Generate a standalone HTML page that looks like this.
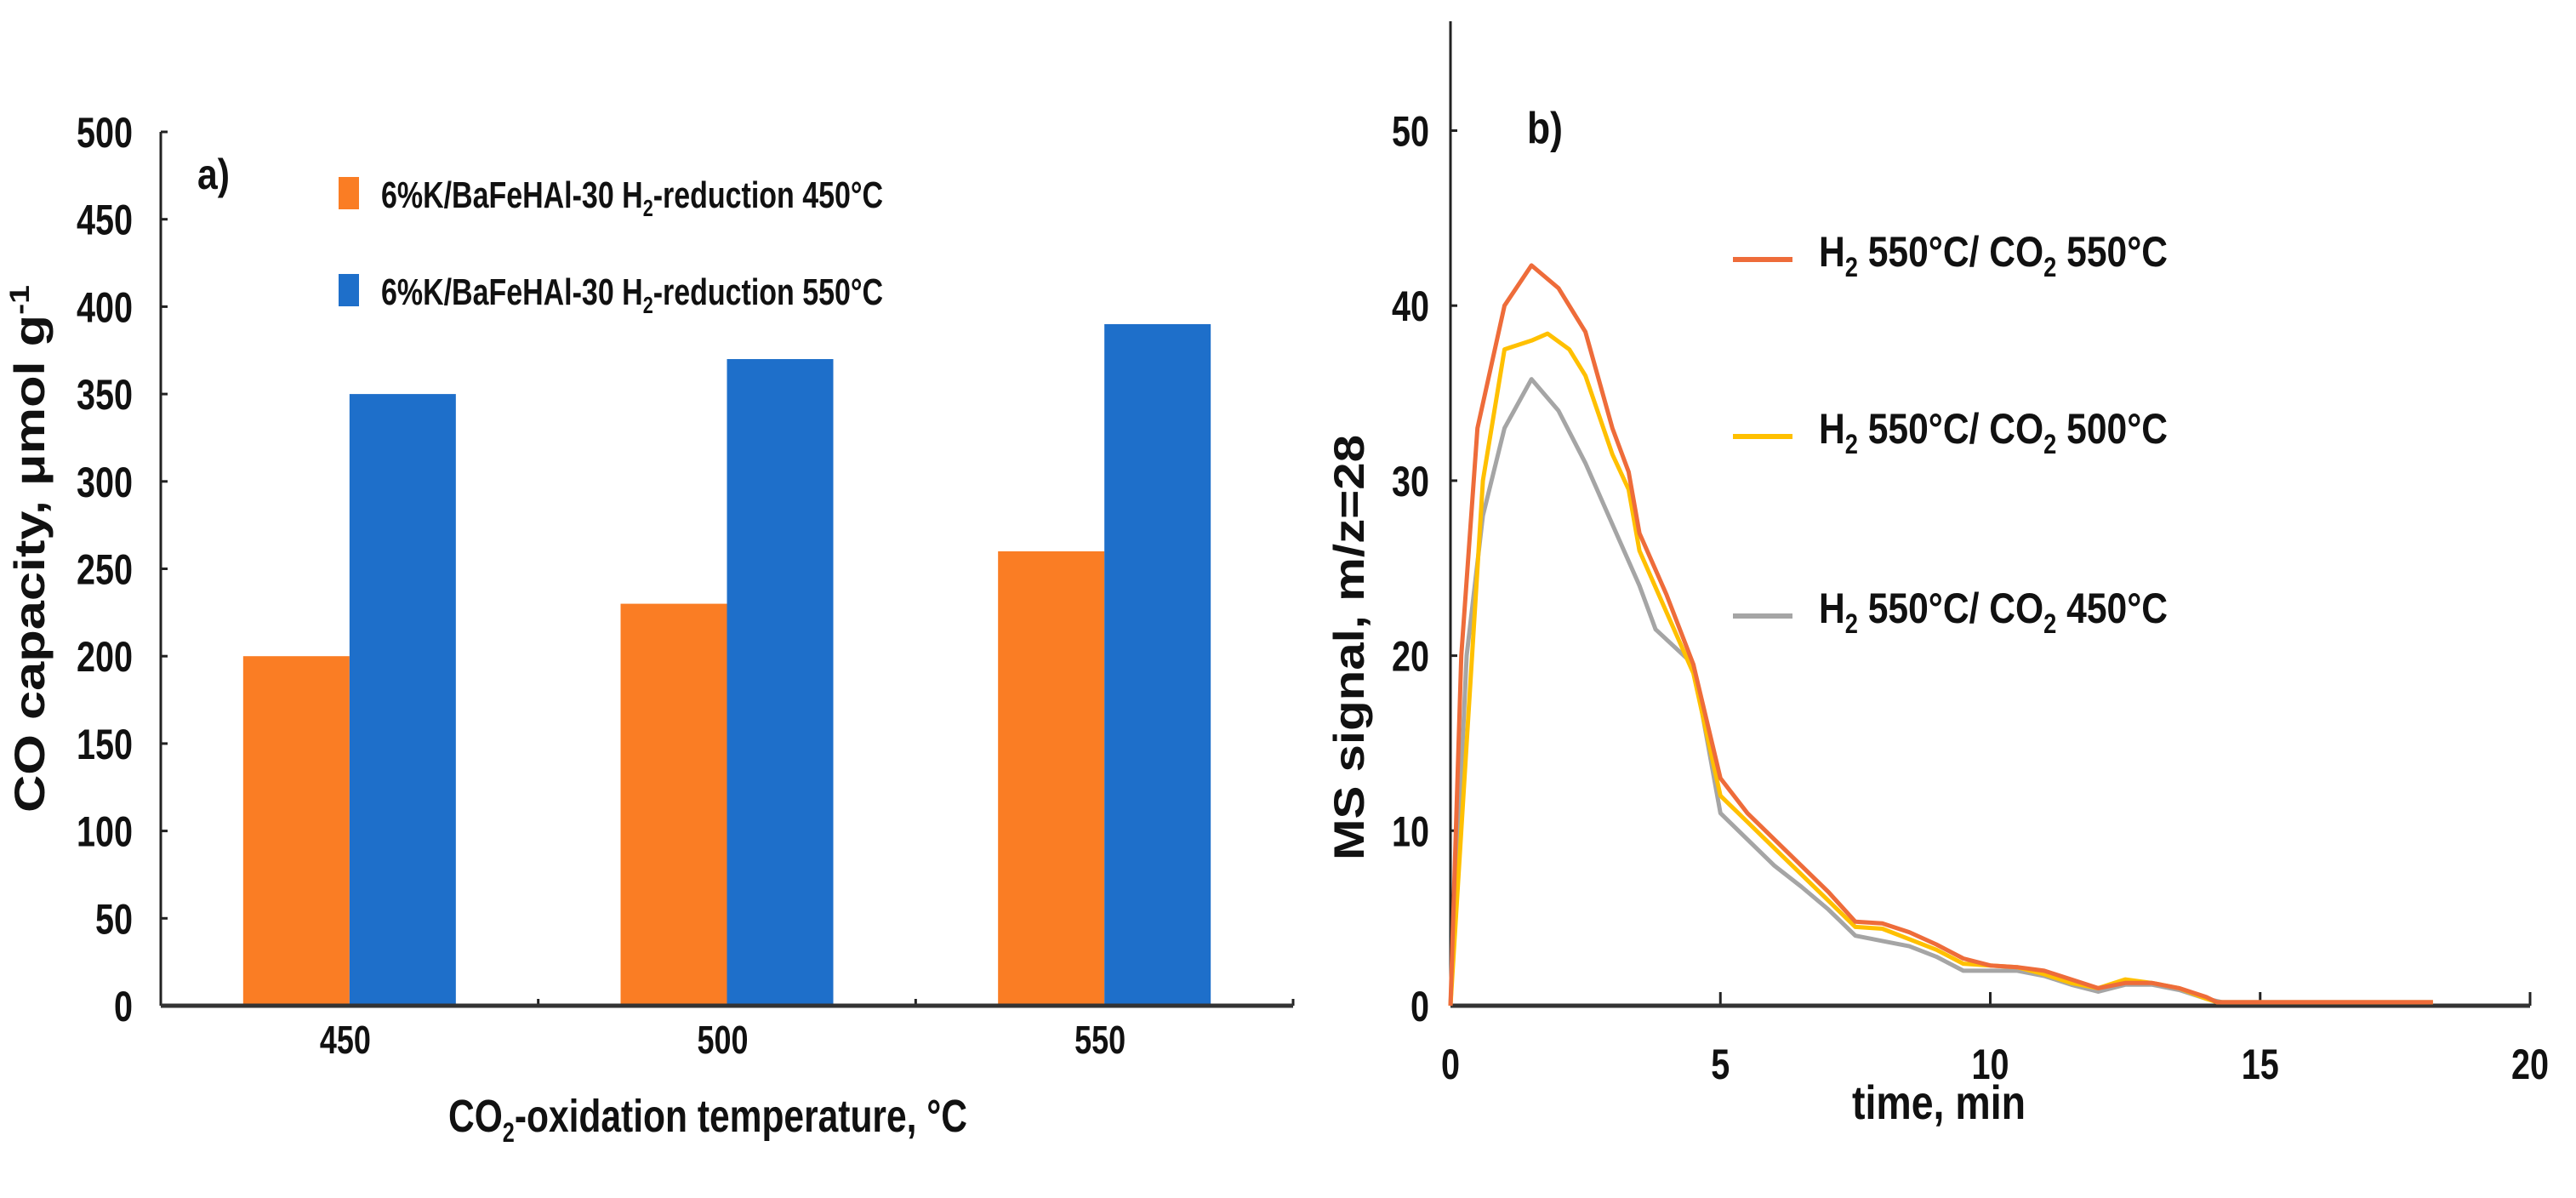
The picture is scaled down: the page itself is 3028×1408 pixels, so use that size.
<!DOCTYPE html>
<html><head><meta charset="utf-8"><style>
html,body{margin:0;padding:0;background:#fff;}
svg{display:block;}
text{font-family:"Liberation Sans",sans-serif;fill:#111;font-weight:bold;}
</style></head>
<body>
<svg id="fig" width="3028" height="1408" viewBox="0 0 3028 1408" xmlns="http://www.w3.org/2000/svg">
<g id="chartA"></g>
<g id="chartB"></g>
</svg>
<script>
const barCategories = ["450","500","550"];
const barOrange = [200,230,260];
const barBlue = [350,370,390];
const barYTicks = [0,50,100,150,200,250,300,350,400,450,500];

const lineXTicks = [0,5,10,15,20];
const lineYTicks = [0,10,20,30,40,50];
const tOrange = [0,0.2,0.5,1.0,1.5,2.0,2.5,3.0,3.3,3.5,4.0,4.5,5.0,5.5,6.0,6.5,7.0,7.5,8.0,8.5,9.0,9.5,10.0,10.5,11.0,11.5,12.0,12.5,13.0,13.5,14.0,14.2,18.2];
const vOrange = [0,20,33,40,42.3,41,38.5,33,30.5,27,23.5,19.5,13,11,9.5,8,6.5,4.8,4.7,4.2,3.5,2.7,2.3,2.2,2.0,1.5,1.0,1.3,1.3,1.0,0.5,0.2,0.2];
const tYellow = [0,0.3,0.6,1.0,1.5,1.8,2.2,2.5,3.0,3.3,3.5,4.0,4.5,5.0,5.5,6.0,6.5,7.0,7.5,8.0,8.5,9.0,9.5,10.0,10.5,11.0,11.5,12.0,12.5,13.0,13.5,14.0,14.2,18.2];
const vYellow = [0,15,30,37.5,38,38.4,37.5,36,31.5,29.5,26,22.5,19,12,10.5,9,7.5,6,4.5,4.4,3.8,3.2,2.4,2.3,2.2,1.8,1.3,1.0,1.5,1.3,1.0,0.4,0.2,0.2];
const tGray = [0,0.3,0.6,1.0,1.5,2.0,2.5,3.0,3.5,3.8,4.5,5.0,5.5,6.0,6.5,7.0,7.5,8.0,8.5,9.0,9.5,10.0,10.5,11.0,11.5,12.0,12.5,13.0,13.5,14.0,14.3,18.2];
const vGray = [0,20,28,33,35.8,34,31,27.5,24,21.5,19.5,11,9.5,8,6.8,5.5,4,3.7,3.4,2.8,2.0,2.0,2.0,1.7,1.2,0.8,1.2,1.2,0.9,0.4,0.2,0.2];

const NS = "http://www.w3.org/2000/svg";
function mk(parent, tag, attrs, txt){
  const e = document.createElementNS(NS, tag);
  for (const k in attrs) e.setAttribute(k, attrs[k]);
  if (txt !== undefined) e.textContent = txt;
  parent.appendChild(e);
  return e;
}
function narrow(s){ return {textLength: s.length*22, lengthAdjust:'spacingAndGlyphs'}; }

// ---------- Chart A ----------
const A = document.getElementById('chartA');
const aX0 = 189, aX1 = 1520, aY0 = 1182, aYTop = 155;
const aY = v => aY0 - (v/500)*(aY0-aYTop);
const catW = (aX1-aX0)/barCategories.length;
const aCx = i => aX0 + catW*(i+0.5);
const barW = 125;

let e;
e = mk(A,'line',{x1:aX0,y1:aYTop,x2:aX0,y2:aY0,stroke:'#222','stroke-width':3});


barYTicks.forEach(v=>{
  const t = mk(A,'line',{x1:aX0,y1:aY(v),x2:aX0+8,y2:aY(v),stroke:'#222','stroke-width':3});
  
  
  const s = String(v);
  const l = mk(A,'text',Object.assign({x:156-s.length*22,y:aY(v)+18,'font-size':50},narrow(s)),s);
  
  
});
barCategories.forEach((c,i)=>{
  const o = mk(A,'rect',{x:aCx(i)-barW,y:aY(barOrange[i]),width:barW,height:aY0-aY(barOrange[i]),fill:'#FA7D24'});
  
  
  const b = mk(A,'rect',{x:aCx(i),y:aY(barBlue[i]),width:barW,height:aY0-aY(barBlue[i]),fill:'#1E6FCA'});
  
  
  const l = mk(A,'text',Object.assign({x:aCx(i)-2-c.length*11,y:1238,'font-size':46},{textLength:c.length*20,lengthAdjust:'spacingAndGlyphs'}),c);
  
  
});
for (let i=0;i<=barCategories.length;i++){
  const x = aX0+catW*i;
  const t = mk(A,'line',{x1:x,y1:aY0,x2:x,y2:aY0-8,stroke:'#222','stroke-width':3});
  
  
}
e = mk(A,'line',{x1:aX0,y1:aY0,x2:aX1,y2:aY0,stroke:'#333','stroke-width':5});



e = mk(A,'text',{x:232,y:222,'font-size':50,textLength:38,lengthAdjust:'spacingAndGlyphs'},'a)');



const leg = [['#FA7D24','6%K/BaFeHAl-30 H','-reduction 450°C',208],['#1E6FCA','6%K/BaFeHAl-30 H','-reduction 550°C',322]];
leg.forEach((L,i)=>{
  const r = mk(A,'rect',{x:398,y:L[3],width:24,height:38,fill:L[0]});
  
  
  const t = mk(A,'text',{x:448,y:L[3]+36,'font-size':44,textLength:590,lengthAdjust:'spacingAndGlyphs'});
  
  
  mk(t,'tspan',{},L[1]);
  mk(t,'tspan',{dy:10,'font-size':28},'2');
  mk(t,'tspan',{dy:-10},L[2]);
});

e = mk(A,'text',{x:527,y:1330,'font-size':54,textLength:610,lengthAdjust:'spacingAndGlyphs'});


mk(e,'tspan',{},'CO');
mk(e,'tspan',{dy:12,'font-size':32},'2');
mk(e,'tspan',{dy:-12},'-oxidation temperature, °C');

e = mk(A,'text',{x:0,y:0,'text-anchor':'middle','font-size':50,'font-weight':'bold',textLength:620,lengthAdjust:'spacingAndGlyphs',transform:'translate(52,645) rotate(-90)','font-family':'"DejaVu Sans","Liberation Sans",sans-serif'});


mk(e,'tspan',{},'CO capacity, μmol g');
mk(e,'tspan',{dy:-18,'font-size':32},'-1');

// ---------- Chart B ----------
const B = document.getElementById('chartB');
const bX0 = 1705, bX1 = 2974, bY0 = 1182, bPer10 = 205.7;
const bx = t => bX0 + (t/20)*(bX1-bX0);
const by = v => bY0 - v/10*bPer10;

e = mk(B,'line',{x1:bX0,y1:25,x2:bX0,y2:bY0,stroke:'#222','stroke-width':3});


lineYTicks.forEach(v=>{
  const t = mk(B,'line',{x1:bX0,y1:by(v),x2:bX0+8,y2:by(v),stroke:'#222','stroke-width':3});
  
  
  const s = String(v);
  const l = mk(B,'text',Object.assign({x:1680-s.length*22,y:by(v)+18,'font-size':50},narrow(s)),s);
  
  
});
lineXTicks.forEach(v=>{
  const t = mk(B,'line',{x1:bx(v),y1:bY0,x2:bx(v),y2:bY0-16,stroke:'#222','stroke-width':3});
  
  
  const s = String(v);
  const l = mk(B,'text',Object.assign({x:bx(v)-s.length*11,y:1268,'font-size':50},narrow(s)),s);
  
  
});
e = mk(B,'line',{x1:bX0,y1:bY0,x2:bX1,y2:bY0,stroke:'#333','stroke-width':5});



const series = [[tGray,vGray,'#A5A5A5','series-co2-450'],[tYellow,vYellow,'#FFC000','series-co2-500'],[tOrange,vOrange,'#EE6C3A','series-co2-550']];
series.forEach(S=>{
  const d = S[0].map((t,i)=>(i?'L':'M')+bx(t).toFixed(1)+' '+by(S[1][i]).toFixed(1)).join(' ');
  const p = mk(B,'path',{d:d,fill:'none',stroke:S[2],'stroke-width':5,'stroke-linejoin':'round'});
  
  
});

e = mk(B,'text',{x:1795,y:168,'font-size':52,textLength:42,lengthAdjust:'spacingAndGlyphs'},'b)');



const legB = [['#EE6C3A','550',305],['#FFC000','500',513],['#A5A5A5','450',724]];
legB.forEach((L,i)=>{
  const ln = mk(B,'line',{x1:2037,y1:L[2],x2:2107,y2:L[2],stroke:L[0],'stroke-width':6});
  
  
  const t = mk(B,'text',{x:2138,y:L[2]+8,'font-size':50,textLength:410,lengthAdjust:'spacingAndGlyphs'});
  
  
  mk(t,'tspan',{},'H');
  mk(t,'tspan',{dy:12,'font-size':32},'2');
  mk(t,'tspan',{dy:-12},' 550°C/ CO');
  mk(t,'tspan',{dy:12,'font-size':32},'2');
  mk(t,'tspan',{dy:-12},' '+L[1]+'°C');
});

e = mk(B,'text',{x:2177,y:1315,'font-size':56,textLength:204,lengthAdjust:'spacingAndGlyphs'},'time, min');


e = mk(B,'text',{x:0,y:0,'text-anchor':'middle','font-size':50,'font-weight':'bold',textLength:500,lengthAdjust:'spacingAndGlyphs',transform:'translate(1603,761) rotate(-90)','font-family':'"DejaVu Sans","Liberation Sans",sans-serif'},'MS signal, m/z=28');


</script>
</body></html>
